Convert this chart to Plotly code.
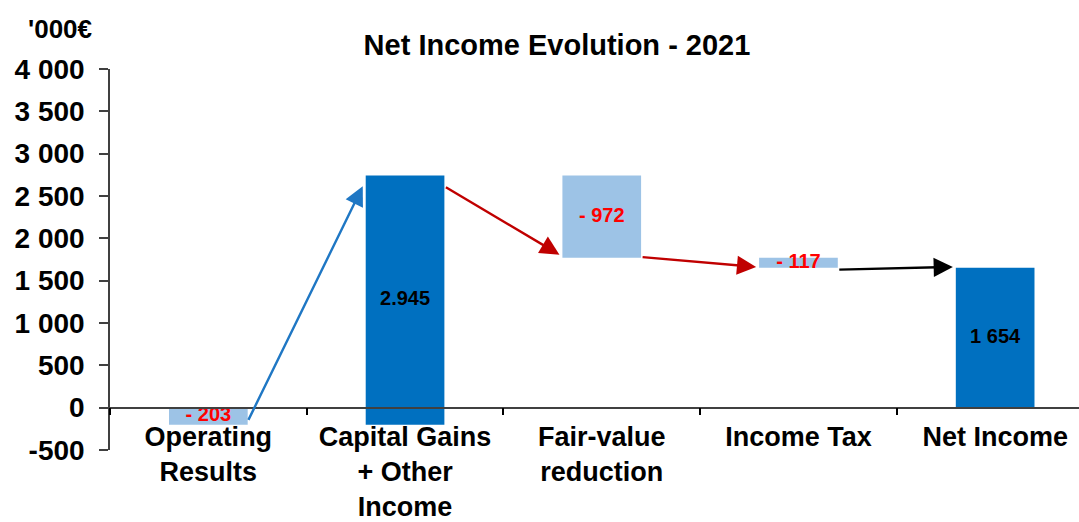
import plotly.graph_objects as go

categories = ["Operating<br>Results", "Capital Gains<br>+ Other<br>Income", "Fair-value<br>reduction", "Income Tax", "Net Income"]
values = [-203, 2945, -972, -117, 1654]
measures = ["relative", "relative", "relative", "relative", "total"]
value_labels = ["- 203", "2.945", "- 972", "- 117", "1 654"]
y_ticks = [-500, 0, 500, 1000, 1500, 2000, 2500, 3000, 3500, 4000]
y_tick_labels = ["-500", "0", "500", "1 000", "1 500", "2 000", "2 500", "3 000", "3 500", "4 000"]

DARK = "#0070C0"
LIGHT = "#9DC3E6"
FONT = "Liberation Sans, Arial, sans-serif"

# compute waterfall bases / ends
bases, tops, level = [], [], 0
for v, m in zip(values, measures):
    if m == "total":
        bases.append(0)
        level = v
    else:
        bases.append(level)
        level += v
    tops.append(bases[-1] + v)

colors = [LIGHT if (m == "relative" and v < 0) else DARK for v, m in zip(values, measures)]
label_colors = ["#FF0000" if v < 0 else "#000000" for v in values]

fig = go.Figure()
fig.add_trace(go.Bar(
    x=categories, y=values, base=bases, width=0.4,
    marker=dict(color=colors, line=dict(width=0)),
    hoverinfo="skip", showlegend=False,
))
fig.add_trace(go.Scatter(
    x=categories, y=[b + v / 2 for b, v in zip(bases, values)],
    mode="text", text=value_labels,
    textfont=dict(family=FONT, size=20, color=label_colors, weight="bold"),
    hoverinfo="skip", showlegend=False,
))

# arrows between bars (from end of one bar to the end level of the next)
arrow_colors = ["#1F77C4", "#C00000", "#C00000", "#000000"]
tail_off = [41, -128, 10, -23]
head_off = [-128, 37, 9, 8]
for i in range(len(values) - 1):
    fig.add_annotation(
        x=i + 1 - 0.215, y=tops[i + 1] + head_off[i],
        ax=i + 0.2, ay=tops[i] + tail_off[i],
        xref="x", yref="y", axref="x", ayref="y",
        showarrow=True, arrowhead=2, arrowsize=1.6, arrowwidth=2.4,
        arrowcolor=arrow_colors[i], text="",
    )

fig.add_annotation(
    text="'000€", xref="paper", yref="paper", x=(60 - 110) / 969, y=(450 - 29) / 381,
    xanchor="center", yanchor="middle", showarrow=False,
    font=dict(family=FONT, size=26, color="#000000", weight="bold"),
)

fig.update_layout(
    width=1079, height=522,
    margin=dict(l=110, r=0, t=69, b=72, autoexpand=False),
    paper_bgcolor="white", plot_bgcolor="white",
    title=dict(text="Net Income Evolution - 2021", x=557 / 1079, xref="container", xanchor="center",
               y=1 - 45 / 522, yref="container", yanchor="middle",
               font=dict(family=FONT, size=29, color="#000000", weight="bold")),
    font=dict(family=FONT, color="#000000"),
)
fig.update_xaxes(
    type="category", automargin=False,
    range=[-0.5, -0.5 + 969 / 196.7],
    anchor="free", position=500 / 4500,
    showline=True, linecolor="#404040", linewidth=1.5,
    ticks="outside", tickson="boundaries", ticklen=7, tickcolor="#000000", tickwidth=1.5,
    tickfont=dict(family=FONT, size=27, color="#000000", weight="bold"),
    ticklabelstandoff=5,
    showgrid=False, zeroline=False, tickangle=0,
)
fig.update_yaxes(
    automargin=False,
    range=[-500, 4000], tickmode="array", tickvals=y_ticks, ticktext=y_tick_labels,
    showline=True, linecolor="#404040", linewidth=1.5,
    ticks="outside", ticklen=9, tickcolor="#404040", tickwidth=1.5,
    tickfont=dict(family=FONT, size=28, color="#000000", weight="bold"),
    ticklabelstandoff=9,
    showgrid=False, zeroline=False,
)

fig.write_html("out.html")
